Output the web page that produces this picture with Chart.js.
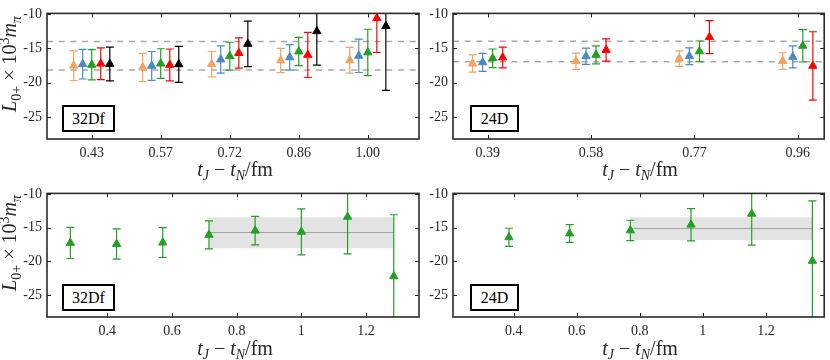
<!DOCTYPE html>
<html><head><meta charset="utf-8">
<script src="https://cdn.jsdelivr.net/npm/chart.js@4/dist/chart.umd.min.js"></script>
<style>
body{margin:0;background:#fff;width:830px;height:360px;position:relative;overflow:hidden;font-family:"Liberation Serif","Times New Roman",serif;color:#262626;}
canvas{position:absolute;}
.xt{position:absolute;font-size:20px;transform:translate(-50%,-50%);white-space:nowrap;}
.yt{position:absolute;font-size:20px;transform:translate(-50%,-50%) rotate(-90deg);white-space:nowrap;}
.sb{font-size:0.7em;vertical-align:-0.3em;}
.sp{font-size:0.7em;vertical-align:0.5em;}
.box{position:absolute;border:2px solid #000;background:#fff;font-size:16px;text-align:center;box-sizing:border-box;line-height:23px;color:#000;}
</style>
</head><body>
<canvas id="tl" width="425" height="180" style="left:0;top:0"></canvas>
<canvas id="tr" width="405" height="180" style="left:425px;top:0"></canvas>
<canvas id="bl" width="425" height="180" style="left:0;top:180px"></canvas>
<canvas id="br" width="405" height="180" style="left:425px;top:180px"></canvas>

<div class="xt" style="left:235px;top:171px"><i>t</i><span class="sb"><i>J</i></span> − <i>t</i><span class="sb"><i>N</i></span>/fm</div>
<div class="xt" style="left:640px;top:171px"><i>t</i><span class="sb"><i>J</i></span> − <i>t</i><span class="sb"><i>N</i></span>/fm</div>
<div class="xt" style="left:235px;top:350px"><i>t</i><span class="sb"><i>J</i></span> − <i>t</i><span class="sb"><i>N</i></span>/fm</div>
<div class="xt" style="left:640px;top:350px"><i>t</i><span class="sb"><i>J</i></span> − <i>t</i><span class="sb"><i>N</i></span>/fm</div>
<div class="yt" style="left:11px;top:64px"><i>L</i><span class="sb">0+</span> × 10<span class="sp">3</span><i>m</i><span class="sb"><i>π</i></span></div>
<div class="yt" style="left:11px;top:243px"><i>L</i><span class="sb">0+</span> × 10<span class="sp">3</span><i>m</i><span class="sb"><i>π</i></span></div>
<div class="box" style="left:62px;top:105px;width:53px;height:27px">32Df</div>
<div class="box" style="left:470px;top:105px;width:49px;height:27px">24D</div>
<div class="box" style="left:62px;top:284px;width:53px;height:27px">32Df</div>
<div class="box" style="left:470px;top:284px;width:49px;height:27px">24D</div>

<script>
// ---------- data ----------
// 32Df, top panel (five series at each t_J - t_N)
const tlX = [0.4286, 0.5714, 0.7143, 0.8571, 1.0000];
const tlLabels = ['0.43', '0.57', '0.72', '0.86', '1.00'];
const tlOrange = [-17.52, -17.77, -17.30, -16.76, -16.73];
const tlOrangeErr = [2.16, 2.05, 1.85, 1.76, 1.87];
const tlBlue = [-17.30, -17.55, -16.62, -16.31, -16.08];
const tlBlueErr = [2.16, 2.10, 1.98, 1.85, 2.43];
const tlGreen = [-17.39, -17.21, -16.13, -15.45, -15.59];
const tlGreenErr = [2.20, 2.16, 2.03, 2.07, 3.38];
const tlRed = [-17.23, -17.41, -15.68, -15.95, -10.60];
const tlRedErr = [2.32, 2.32, 2.20, 3.29, 5.00];
const tlBlack = [-17.27, -17.32, -14.35, -12.50, -11.75];
const tlBlackErr = [2.45, 2.63, 3.31, 4.95, 9.37];
const tlDashed = [-14.00, -18.15];

// 24D, top panel (four series)
const trX = [0.3850, 0.5775, 0.7700, 0.9625];
const trLabels = ['0.39', '0.58', '0.77', '0.96'];
const trOrange = [-17.21, -16.87, -16.49, -16.85];
const trOrangeErr = [1.26, 1.19, 1.13, 1.22];
const trBlue = [-17.03, -16.15, -16.13, -16.24];
const trBlueErr = [1.31, 1.19, 1.22, 1.60];
const trGreen = [-16.44, -15.95, -15.43, -14.62];
const trGreenErr = [1.35, 1.31, 1.51, 2.36];
const trRed = [-16.33, -15.23, -13.36, -17.55];
const trRedErr = [1.51, 1.62, 2.41, 4.98];
const trDashed = [-13.96, -16.94];

// 32Df, bottom panel
const blX = [0.2857, 0.4286, 0.5714, 0.7143, 0.8571, 1.0000, 1.1429, 1.2857];
const blY = [-17.27, -17.43, -17.22, -16.08, -15.44, -15.62, -13.39, -22.25];
const blErr = [2.32, 2.25, 2.22, 2.09, 2.13, 3.42, 5.50, 9.17];
const blBandX = [0.7143, 1.2857];
const blFit = [-15.73, -13.44, -18.07]; // central, upper, lower

// 24D, bottom panel
const brX = [0.3850, 0.5775, 0.7700, 0.9625, 1.1550, 1.3475];
const brY = [-16.44, -15.87, -15.41, -14.56, -12.94, -19.95];
const brErr = [1.35, 1.32, 1.51, 2.40, 4.66, 8.95];
const brBandX = [0.7700, 1.3475];
const brFit = [-15.14, -13.44, -16.83];

const bottomTicks = [0.4, 0.6, 0.8, 1.0, 1.2];
const bottomLabels = ['0.4', '0.6', '0.8', '1', '1.2'];
const yTicks = [-25, -20, -15, -10];

// ---------- styles ----------
const C = {orange:'#f4a360', blue:'#4a8ac4', green:'#22a022', red:'#ff0000', black:'#000000'};
const DODGE = 0.0187;
const FONT = 'Liberation Serif';
const INK = '#262626';

const errPlugin = {
  id:'errbars',
  afterDatasetsDraw(chart){
    const {ctx, chartArea:a} = chart;
    const xs = chart.scales.x, ys = chart.scales.y;
    ctx.save();
    ctx.beginPath(); ctx.rect(a.left, a.top, a.right-a.left, a.bottom-a.top); ctx.clip();
    chart.data.datasets.forEach(ds => {
      if (!ds.errors) return;
      ctx.strokeStyle = ds.borderColor; ctx.lineWidth = 1.2;
      ds.data.forEach((p, j) => {
        const e = ds.errors[j];
        const px = xs.getPixelForValue(p.x);
        const y1 = ys.getPixelForValue(p.y + e), y2 = ys.getPixelForValue(p.y - e);
        ctx.beginPath();
        ctx.moveTo(px, y1); ctx.lineTo(px, y2);
        ctx.moveTo(px-4, y1); ctx.lineTo(px+4, y1);
        ctx.moveTo(px-4, y2); ctx.lineTo(px+4, y2);
        ctx.stroke();
      });
    });
    ctx.restore();
  },
  afterDraw(chart){
    const {ctx, chartArea:a} = chart;
    const xs = chart.scales.x, ys = chart.scales.y;
    ctx.save();
    ctx.strokeStyle = INK; ctx.lineWidth = 1;
    ctx.beginPath();
    xs.ticks.forEach(t => {
      const p = Math.round(xs.getPixelForValue(t.value)) + 0.5;
      ctx.moveTo(p, a.bottom); ctx.lineTo(p, a.bottom-4);
      ctx.moveTo(p, a.top); ctx.lineTo(p, a.top+4);
    });
    ys.ticks.forEach(t => {
      const p = Math.round(ys.getPixelForValue(t.value)) + 0.5;
      ctx.moveTo(a.left, p); ctx.lineTo(a.left+4, p);
      ctx.moveTo(a.right, p); ctx.lineTo(a.right-4, p);
    });
    ctx.stroke();
    ctx.lineWidth = 1.6; ctx.strokeStyle = '#2a2a2a';
    ctx.strokeRect(a.left, a.top, a.right-a.left, a.bottom-a.top);
    ctx.restore();
  }
};

function pts(xs, ys){ return xs.map((x, i) => ({x, y: ys[i]})); }
function dodged(xs, k, n){ return xs.map(v => v + (k - (n-1)/2) * DODGE); }
function series(xs, ys, errs, color){
  return {type:'scatter', data: pts(xs, ys), errors: errs, borderColor: color, backgroundColor: color,
    pointStyle:'triangle', pointRadius:4.8, borderWidth:1, clip:0, order:1};
}
function hline(x0, x1, y, dashed, color, order, fill){
  return {type:'line', data:[{x:x0,y},{x:x1,y}], borderColor:color, borderWidth: dashed ? 1.5 : 1,
    borderDash: dashed ? [6,5.7] : [], pointRadius:0, showLine:true, clip:0, order, fill: fill || false,
    backgroundColor:'rgba(200,200,200,0.5)'};
}

function makeChart(id, datasets, xr, xticks, xlabels, yr, yaxW, xaxH, pad){
  return new Chart(document.getElementById(id), {
    type:'scatter',
    data:{datasets},
    plugins:[errPlugin],
    options:{
      responsive:false, animation:false, events:[],
      layout:{padding:pad},
      plugins:{legend:{display:false}, tooltip:{enabled:false}},
      scales:{
        x:{type:'linear', min:xr[0], max:xr[1],
          afterBuildTicks: s => { s.ticks = xticks.map(v => ({value:v})); },
          ticks:{callback:(v,i) => xlabels[i], font:{family:FONT, size:14}, color:INK, padding:6, maxRotation:0, autoSkip:false},
          grid:{display:false, drawTicks:false}, border:{display:false},
          afterFit: s => { s.height = xaxH; }
        },
        y:{type:'linear', min:yr[0], max:yr[1],
          afterBuildTicks: s => { s.ticks = yTicks.map(v => ({value:v})); },
          ticks:{callback:v => String(v), font:{family:FONT, size:14}, color:INK, padding:5},
          grid:{display:false, drawTicks:false}, border:{display:false},
          afterFit: s => { s.width = yaxW; }
        }
      }
    }
  });
}

// top-left
const tlR = [0.336, 1.106];
makeChart('tl', [
  series(dodged(tlX,0,5), tlOrange, tlOrangeErr, C.orange),
  series(dodged(tlX,1,5), tlBlue, tlBlueErr, C.blue),
  series(dodged(tlX,2,5), tlGreen, tlGreenErr, C.green),
  series(dodged(tlX,3,5), tlRed, tlRedErr, C.red),
  series(dodged(tlX,4,5), tlBlack, tlBlackErr, C.black),
  hline(tlR[0], tlR[1], tlDashed[0], true, '#a8a8a8', 5),
  hline(tlR[0], tlR[1], tlDashed[1], true, '#a8a8a8', 5)
], tlR, tlX, tlLabels, [-28.2, -9.9], 47, 41, {top:5, right:6, left:0, bottom:0});

// top-right
const trR = [0.3205, 1.0117];
makeChart('tr', [
  series(dodged(trX,0,4), trOrange, trOrangeErr, C.orange),
  series(dodged(trX,1,4), trBlue, trBlueErr, C.blue),
  series(dodged(trX,2,4), trGreen, trGreenErr, C.green),
  series(dodged(trX,3,4), trRed, trRedErr, C.red),
  hline(trR[0], trR[1], trDashed[0], true, '#a8a8a8', 5),
  hline(trR[0], trR[1], trDashed[1], true, '#a8a8a8', 5)
], trR, trX, trLabels, [-28.2, -9.9], 28, 41, {top:5, right:2, left:0, bottom:0});

// bottom-left
makeChart('bl', [
  series(blX, blY, blErr, C.green),
  hline(blBandX[0], blBandX[1], blFit[0], false, '#a0a0a0', 8),
  hline(blBandX[0], blBandX[1], blFit[1], false, 'rgba(0,0,0,0)', 9, '+1'),
  hline(blBandX[0], blBandX[1], blFit[2], false, 'rgba(0,0,0,0)', 9)
], [0.2135, 1.3637], bottomTicks, bottomLabels, [-28.3, -9.9], 47, 43, {top:3, right:6, left:0, bottom:0});

// bottom-right
makeChart('br', [
  series(brX, brY, brErr, C.green),
  hline(brBandX[0], brBandX[1], brFit[0], false, '#a0a0a0', 8),
  hline(brBandX[0], brBandX[1], brFit[1], false, 'rgba(0,0,0,0)', 9, '+1'),
  hline(brBandX[0], brBandX[1], brFit[2], false, 'rgba(0,0,0,0)', 9)
], [0.2075, 1.385], bottomTicks, bottomLabels, [-28.3, -9.9], 28, 43, {top:3, right:2, left:0, bottom:0});
</script>
</body></html>
